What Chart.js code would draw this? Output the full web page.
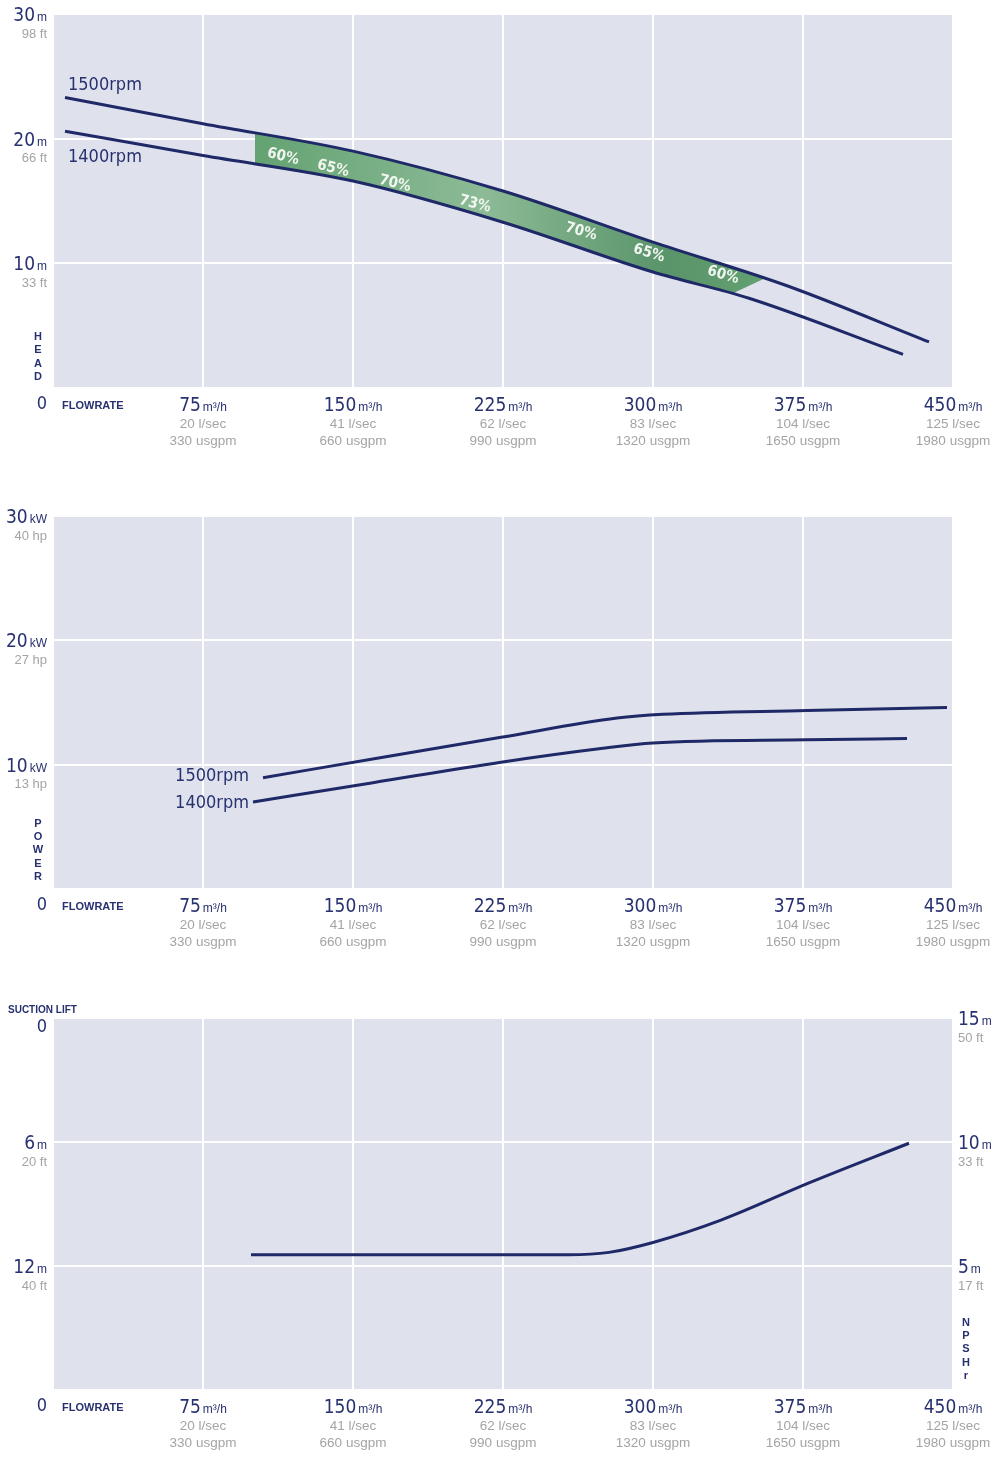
<!DOCTYPE html>
<html>
<head>
<meta charset="utf-8">
<script src="https://cdn.jsdelivr.net/npm/chart.js@4/dist/chart.umd.min.js"></script>
<style>
  body { margin: 0; background: #fff; width: 994px; height: 1461px; position: relative; overflow: hidden; }
  .box { position: absolute; left: 0; width: 994px; }
</style>
</head>
<body>
<div class="box" style="top:0;height:462px"><canvas id="headChart"></canvas></div>
<div class="box" style="top:500px;height:462px"><canvas id="powerChart"></canvas></div>
<div class="box" style="top:1000px;height:461px"><canvas id="npshChart"></canvas></div>
<script>
// flowrate axis (shared by the three charts)
var flowTicks = [75, 150, 225, 300, 375, 450];
var flowLps = ['20 l/sec', '41 l/sec', '62 l/sec', '83 l/sec', '104 l/sec', '125 l/sec'];
var flowGpm = ['330 usgpm', '660 usgpm', '990 usgpm', '1320 usgpm', '1650 usgpm', '1980 usgpm'];

// head chart
var headTicks = [30, 20, 10];
var headFt = ['98 ft', '66 ft', '33 ft'];
var flow1500 = [6, 75, 150, 225, 300, 367, 438];
var head1500 = [23.3, 21.2, 19.0, 15.8, 11.7, 8.2, 3.7];
var flow1400 = [6, 75, 150, 225, 300, 348, 425];
var head1400 = [20.6, 18.65, 16.6, 13.3, 9.3, 7.2, 2.7];
// efficiency band (between the two head curves)
var bandFlow = [101, 125, 150, 175, 200, 225, 250, 275, 300, 320, 340, 356];
var bandTop = [20.45, 19.8, 19.0, 18.0, 16.95, 15.8, 14.45, 13.1, 11.7, 10.65, 9.6, 8.8];
var bandBottom = [17.9, 17.27, 16.6, 15.6, 14.5, 13.3, 12.05, 10.7, 9.3, 8.45, 7.6, 8.8];
var effFlow = [115, 140, 171, 211, 264, 298, 335];
var effHead = [18.55, 17.6, 16.4, 14.75, 12.55, 10.8, 9.06];
var effLabels = ['60%', '65%', '70%', '73%', '70%', '65%', '60%'];

// power chart
var powerTicks = [30, 20, 10];
var powerHp = ['40 hp', '27 hp', '13 hp'];
var pFlow1500 = [105, 165, 224, 282, 305, 377, 447];
var power1500 = [8.95, 10.6, 12.2, 13.75, 14.05, 14.35, 14.6];
var pFlow1400 = [100, 160, 224, 274, 300, 377, 427];
var power1400 = [7.0, 8.55, 10.2, 11.3, 11.75, 12.0, 12.1];

// suction lift / npsh chart
var suctionTicks = [6, 12];
var suctionFt = ['20 ft', '40 ft'];
var npshTicks = [15, 10, 5];
var npshFt = ['50 ft', '33 ft', '17 ft'];
var npshFlow = [99, 258, 278, 300, 334, 378, 428];
var npshValues = [5.45, 5.45, 5.55, 5.95, 6.85, 8.35, 9.95];

var NAVY = '#283170';
var GREY = '#a4a4a4';
var LINE = '#1f2967';
var NARROW = "'Liberation Sans Narrow', 'DejaVu Sans Condensed', 'Liberation Sans', sans-serif";
var SANS = "'Liberation Sans', Arial, sans-serif";

function pts(xs, ys) {
  return xs.map(function (x, i) { return { x: x, y: ys[i] }; });
}

// big number + small unit, y = middle of the number
function unitLabel(ctx, x, y, num, unit, align) {
  ctx.save();
  ctx.font = '19px ' + NARROW;
  var w1 = ctx.measureText(num).width;
  ctx.font = '12px ' + SANS;
  var w2 = unit ? ctx.measureText(unit).width + 2 : 0;
  var start = align === 'right' ? x - w1 - w2 : (align === 'center' ? x - (w1 + w2) / 2 : x);
  ctx.fillStyle = NAVY;
  ctx.textAlign = 'left';
  ctx.textBaseline = 'alphabetic';
  ctx.font = '19px ' + NARROW;
  ctx.fillText(num, start, y + 7);
  if (unit) {
    ctx.font = '12px ' + SANS;
    ctx.fillText(unit, start + w1 + 2, y + 7);
  }
  ctx.restore();
}

function plainText(ctx, text, x, y, align, font, color) {
  ctx.save();
  ctx.font = font;
  ctx.fillStyle = color;
  ctx.textAlign = align;
  ctx.textBaseline = 'middle';
  ctx.fillText(text, x, y);
  ctx.restore();
}

function stackText(ctx, text, x, yLast) {
  var step = 13.3;
  for (var i = 0; i < text.length; i++) {
    var y = yLast - (text.length - 1 - i) * step;
    plainText(ctx, text[i], x, y, 'center', 'bold 11px ' + SANS, NAVY);
  }
}

function drawFlowAxis(chart) {
  var ctx = chart.ctx, xs = chart.scales.x, b = chart.chartArea.bottom;
  plainText(ctx, '0', 42, b + 16, 'center', '18px ' + NARROW, NAVY);
  plainText(ctx, 'FLOWRATE', 62, b + 18, 'left', 'bold 11px ' + SANS, NAVY);
  flowTicks.forEach(function (v, i) {
    var x = xs.getPixelForValue(v);
    unitLabel(ctx, x, b + 16, String(v), 'm\u00b3/h', 'center');
    plainText(ctx, flowLps[i], x, b + 36, 'center', '13.5px ' + SANS, GREY);
    plainText(ctx, flowGpm[i], x, b + 53, 'center', '13.5px ' + SANS, GREY);
  });
}

function drawLeftTicks(chart, scale, ticks, subs, unit) {
  var ctx = chart.ctx, x = chart.chartArea.left - 6;
  ticks.forEach(function (v, i) {
    var y = scale.getPixelForValue(v);
    unitLabel(ctx, x, y, String(v), unit, 'right');
    plainText(ctx, subs[i], x, y + 20, 'right', '13px ' + SANS, GREY);
  });
}

var plotBg = {
  id: 'plotBg',
  beforeDraw: function (chart) {
    var a = chart.chartArea, c = chart.ctx;
    c.save();
    c.fillStyle = '#dfe2ed';
    c.fillRect(a.left, a.top, a.right - a.left, a.bottom - a.top);
    c.restore();
  }
};

function xScale() {
  return {
    type: 'linear', min: 0, max: 450,
    ticks: { stepSize: 75, display: false },
    grid: { color: '#ffffff', lineWidth: 2, drawTicks: false },
    border: { display: false },
    afterFit: function (s) { s.height = 0; }
  };
}

function yScale(max, step, extra) {
  var s = {
    type: 'linear', min: 0, max: max,
    ticks: { stepSize: step, display: false },
    grid: { color: '#ffffff', lineWidth: 2, drawTicks: false },
    border: { display: false },
    afterFit: function (sc) { sc.width = 0; }
  };
  return Object.assign(s, extra || {});
}

function baseOptions(pad, scales) {
  return {
    responsive: true,
    maintainAspectRatio: false,
    animation: false,
    layout: { padding: pad },
    plugins: { legend: { display: false }, tooltip: { enabled: false } },
    elements: {
      point: { radius: 0 },
      line: { borderWidth: 3, borderColor: LINE, cubicInterpolationMode: 'monotone' }
    },
    scales: scales
  };
}

function bandGradient(context) {
  var chart = context.chart;
  if (!chart.chartArea) return '#6aa277';
  var xs = chart.scales.x;
  var g = chart.ctx.createLinearGradient(xs.getPixelForValue(bandFlow[0]), 0,
    xs.getPixelForValue(bandFlow[bandFlow.length - 1]), 0);
  g.addColorStop(0, '#64a272');
  g.addColorStop(0.45, '#8cbb96');
  g.addColorStop(0.8, '#5a946a');
  g.addColorStop(1, '#62a070');
  return g;
}

// ---------- HEAD ----------
var headText = {
  id: 'headText',
  afterDatasetsDraw: function (chart) {
    var ctx = chart.ctx, xs = chart.scales.x, ys = chart.scales.y;
    var p = effFlow.map(function (f, i) {
      return { x: xs.getPixelForValue(f), y: ys.getPixelForValue(effHead[i]) };
    });
    p.forEach(function (pt, i) {
      var a = p[Math.max(0, i - 1)], b = p[Math.min(p.length - 1, i + 1)];
      var ang = Math.atan2(b.y - a.y, b.x - a.x);
      ctx.save();
      ctx.translate(pt.x, pt.y);
      ctx.rotate(ang);
      ctx.font = 'bold 15px ' + NARROW;
      ctx.fillStyle = '#f2f6f0';
      ctx.textAlign = 'center';
      ctx.textBaseline = 'middle';
      ctx.fillText(effLabels[i], 0, 0);
      ctx.restore();
    });
  },
  afterDraw: function (chart) {
    var ctx = chart.ctx, xs = chart.scales.x, ys = chart.scales.y;
    drawLeftTicks(chart, ys, headTicks, headFt, 'm');
    drawFlowAxis(chart);
    stackText(ctx, 'HEAD', 38, chart.chartArea.bottom - 11);
    plainText(ctx, '1500rpm', xs.getPixelForValue(flow1500[0]) + 3, ys.getPixelForValue(head1500[0]) - 12, 'left', '18px ' + NARROW, NAVY);
    plainText(ctx, '1400rpm', xs.getPixelForValue(flow1400[0]) + 3, ys.getPixelForValue(head1400[0]) + 26, 'left', '18px ' + NARROW, NAVY);
  }
};

new Chart(document.getElementById('headChart'), {
  type: 'line',
  data: {
    datasets: [
      { label: '1500rpm', data: pts(flow1500, head1500), fill: false },
      { label: '1400rpm', data: pts(flow1400, head1400), fill: false },
      { label: 'band top', data: pts(bandFlow, bandTop), borderWidth: 0, borderColor: 'rgba(0,0,0,0)',
        cubicInterpolationMode: 'default', tension: 0, fill: '+1', backgroundColor: bandGradient },
      { label: 'band bottom', data: pts(bandFlow, bandBottom), borderWidth: 0, borderColor: 'rgba(0,0,0,0)',
        cubicInterpolationMode: 'default', tension: 0, fill: false }
    ]
  },
  options: baseOptions({ left: 53, right: 41, top: 14, bottom: 74 }, { x: xScale(), y: yScale(30, 10) }),
  plugins: [plotBg, headText]
});

// ---------- POWER ----------
var powerText = {
  id: 'powerText',
  afterDraw: function (chart) {
    var ctx = chart.ctx, xs = chart.scales.x, ys = chart.scales.y;
    drawLeftTicks(chart, ys, powerTicks, powerHp, 'kW');
    drawFlowAxis(chart);
    stackText(ctx, 'POWER', 38, chart.chartArea.bottom - 12);
    var lx = xs.getPixelForValue(98);
    plainText(ctx, '1500rpm', lx, ys.getPixelForValue(power1500[0]) - 1, 'right', '18px ' + NARROW, NAVY);
    plainText(ctx, '1400rpm', lx, ys.getPixelForValue(power1400[0]) + 1, 'right', '18px ' + NARROW, NAVY);
  }
};

new Chart(document.getElementById('powerChart'), {
  type: 'line',
  data: {
    datasets: [
      { label: '1500rpm', data: pts(pFlow1500, power1500), fill: false },
      { label: '1400rpm', data: pts(pFlow1400, power1400), fill: false }
    ]
  },
  options: baseOptions({ left: 53, right: 41, top: 16, bottom: 73 }, { x: xScale(), y: yScale(30, 10) }),
  plugins: [plotBg, powerText]
});

// ---------- SUCTION LIFT / NPSH ----------
var npshText = {
  id: 'npshText',
  afterDraw: function (chart) {
    var ctx = chart.ctx, a = chart.chartArea, yl = chart.scales.y, yr = chart.scales.y1;
    plainText(ctx, 'SUCTION LIFT', 8, a.top - 8, 'left', 'bold 10px ' + SANS, NAVY);
    plainText(ctx, '0', 42, a.top + 9, 'center', '18px ' + NARROW, NAVY);
    drawLeftTicks(chart, yl, suctionTicks, suctionFt, 'm');
    npshTicks.forEach(function (v, i) {
      var y = yr.getPixelForValue(v);
      unitLabel(ctx, a.right + 5, y, String(v), 'm', 'left');
      plainText(ctx, npshFt[i], a.right + 5, y + 20, 'left', '13px ' + SANS, GREY);
    });
    drawFlowAxis(chart);
    stackText(ctx, 'NPSHr', 966, a.bottom - 14);
  }
};

new Chart(document.getElementById('npshChart'), {
  type: 'line',
  data: {
    datasets: [
      { label: 'NPSHr', data: pts(npshFlow, npshValues), fill: false, yAxisID: 'y1' }
    ]
  },
  options: baseOptions({ left: 53, right: 41, top: 18, bottom: 71 }, {
    x: xScale(),
    y: yScale(18, 6, { reverse: true, position: 'left', grid: { display: false, drawTicks: false } }),
    y1: yScale(15, 5, { position: 'right' })
  }),
  plugins: [plotBg, npshText]
});
</script>
</body>
</html>
